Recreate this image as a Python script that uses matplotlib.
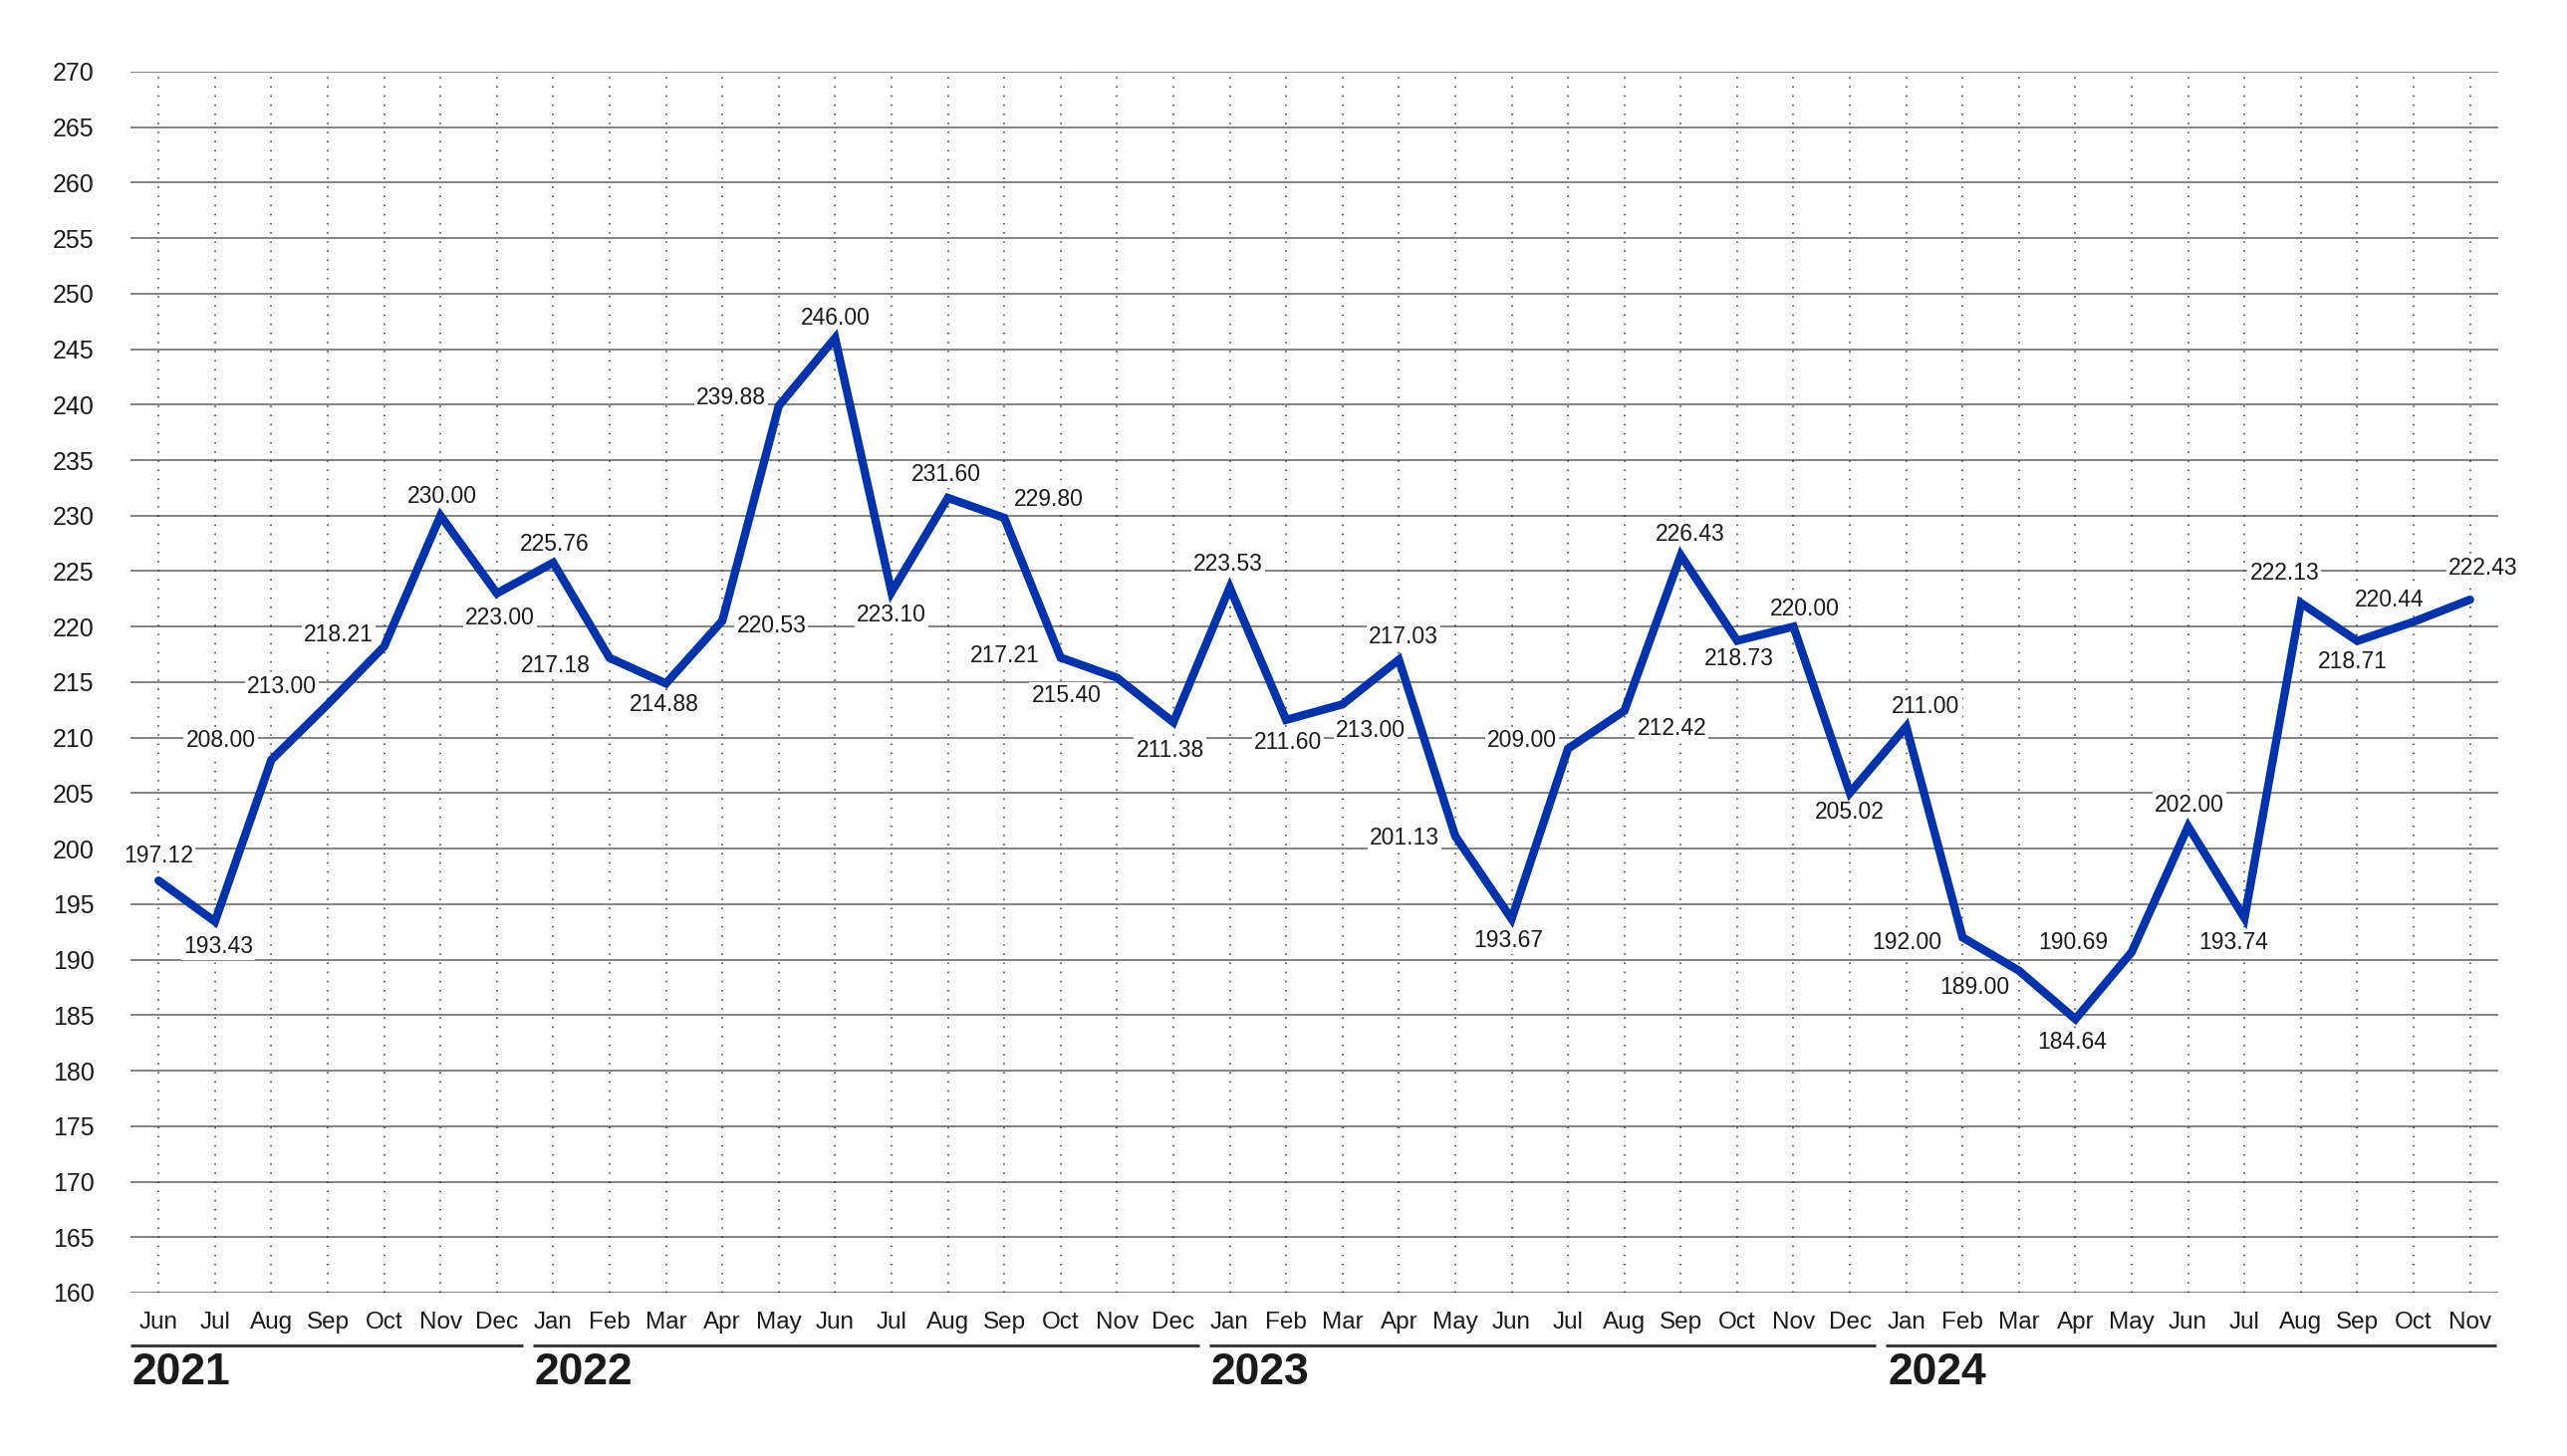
import matplotlib
matplotlib.use("Agg")
import matplotlib.pyplot as plt

# monthly prices, Jun 2021 - Nov 2024
months = (
    ["Jun", "Jul", "Aug", "Sep", "Oct", "Nov", "Dec"]
    + ["Jan", "Feb", "Mar", "Apr", "May", "Jun", "Jul", "Aug", "Sep", "Oct", "Nov", "Dec"]
    + ["Jan", "Feb", "Mar", "Apr", "May", "Jun", "Jul", "Aug", "Sep", "Oct", "Nov", "Dec"]
    + ["Jan", "Feb", "Mar", "Apr", "May", "Jun", "Jul", "Aug", "Sep", "Oct", "Nov"]
)
values = [
    197.12, 193.43, 208.00, 213.00, 218.21, 230.00, 223.00,
    225.76, 217.18, 214.88, 220.53, 239.88, 246.00, 223.10, 231.60, 229.80, 217.21, 215.40, 211.38,
    223.53, 211.60, 213.00, 217.03, 201.13, 193.67, 209.00, 212.42, 226.43, 218.73, 220.00, 205.02,
    211.00, 192.00, 189.00, 184.64, 190.69, 202.00, 193.74, 222.13, 218.71, 220.44, 222.43,
]
years = ["2021", "2022", "2023", "2024"]
year_start = [0, 7, 19, 31]
year_end = [6, 18, 30, 41]
yticks = list(range(160, 275, 5))

# label offsets (pixels of the small preview, scaled below)
label_offsets = [
    (0, -15), (2, 15), (-31, -12), (-28, -11), (-28, -7), (1, -12), (2, 15),
    (1, -11), (-33, 5), (-1, 13), (30, 3), (-29, -5), (0, -12), (0, 14), (-1, -14),
    (27, -11), (-34, -1), (-31, 11), (-2, 17),
    (-1, -14), (1, 14), (17, 16), (3, -14), (-31, 1), (-2, 13), (-28, -5), (29, 11),
    (6, -13), (1, 11), (7, -11), (0, 12),
    (12, -12), (-34, 3), (-27, 10), (-2, 14), (-36, -6), (1, -13), (-7, 15), (-10, -18),
    (-3, 13), (-15, -13), (8, -19),
]

x = list(range(len(values)))

fig = plt.figure(figsize=(25.77, 14.62), dpi=100)
ax = fig.add_axes([0.0508, 0.1122, 0.9224, 0.8386])
font = "Liberation Sans"

for v in yticks:
    ax.axhline(v, color="#7a7a7a", lw=1.3, zorder=1)
for i in x:
    ax.plot([i, i], [160, 269.6], color="#333333", lw=1.1,
            linestyle=(0, (1, 5)), zorder=1)

ax.plot(x, values, color="#0033aa", lw=6.0, solid_joinstyle="miter",
        solid_capstyle="round", zorder=4)

for i, v in enumerate(values):
    dx, dy = label_offsets[i]
    ax.annotate(f"{v:.2f}", (i, v), xytext=(dx * 1.183, -dy * 1.183),
                textcoords="offset points", ha="center", va="center",
                fontsize=16.5, family=font, color="#1a1a1a", zorder=3,
                bbox=dict(facecolor="white", edgecolor="none", pad=1.5))

ax.set_xlim(-0.5, 41.5)
ax.set_ylim(160, 270)
ax.set_yticks(yticks)
ax.set_yticklabels([str(t) for t in yticks], family=font, fontsize=18,
                   color="#1a1a1a")
ax.tick_params(axis="y", length=0, pad=26)
ax.set_xticks([])
for s in ax.spines.values():
    s.set_visible(False)

trans = ax.get_xaxis_transform()
for i, m in enumerate(months):
    ax.text(i, -0.0245, m, transform=trans, ha="center", va="center",
            fontsize=17.5, family=font, color="#1a1a1a", clip_on=False)

for k, yr in enumerate(years):
    x0 = -0.5 if k == 0 else year_start[k] - 0.36
    x1 = year_end[k] + 0.46
    ax.plot([x0, x1], [-0.0432, -0.0432], transform=trans, color="#3a3a3a",
            lw=2.2, clip_on=False, solid_capstyle="butt")
    ax.text(x0 + 0.03, -0.0655, yr, transform=trans, ha="left", va="center",
            fontsize=32, fontweight="bold", family=font, color="#1a1a1a",
            clip_on=False)

fig.savefig("out.png", dpi=100, facecolor="white")
